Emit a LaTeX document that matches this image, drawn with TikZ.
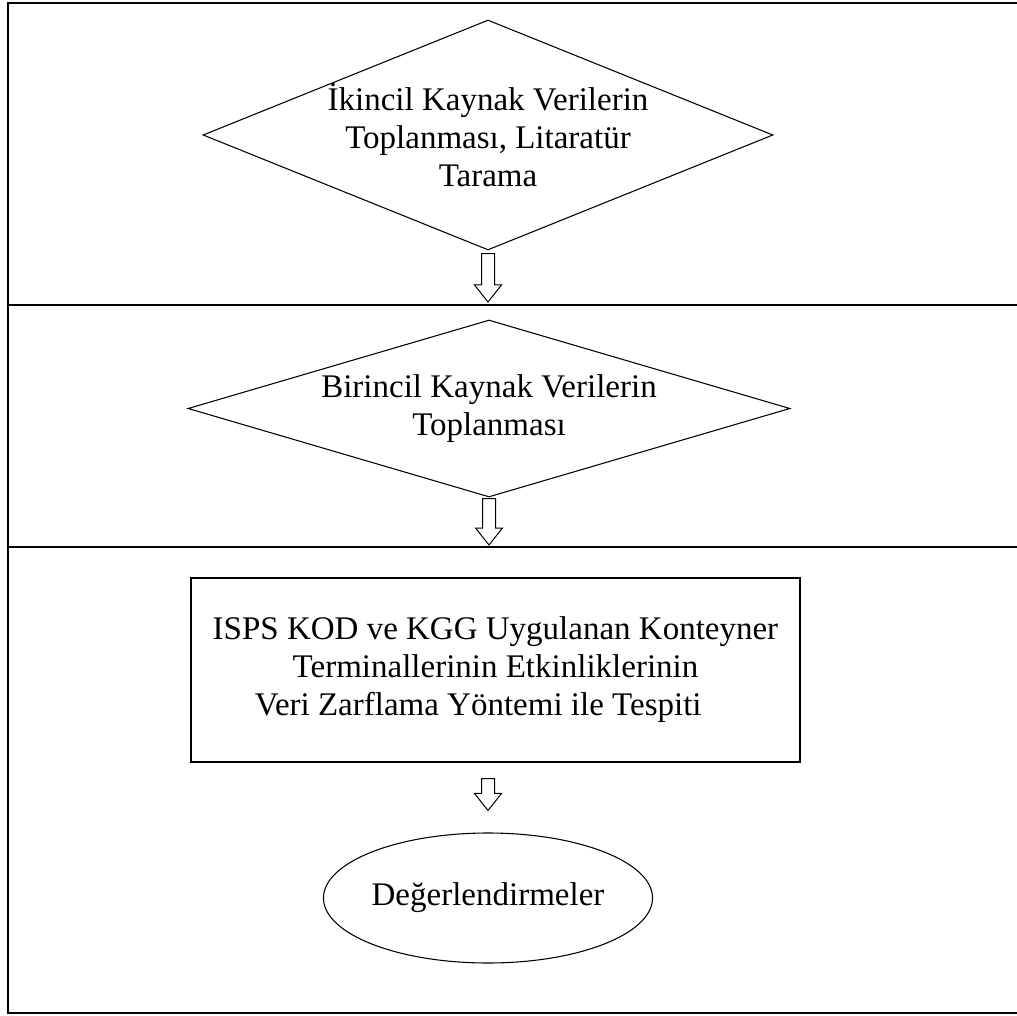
\documentclass[tikz,border=0pt]{standalone}
\usepackage{fontspec}
\setmainfont{Liberation Serif}
\usetikzlibrary{shapes.geometric, positioning, calc}
\tikzset{
x=0.75pt, y=-0.75pt, % one unit is one pixel of the page, y runs downwards
every node/.style={font=\fontsize{24.75}{28.5}\selectfont, align=center},
frame/.style={line width=1pt}, % outer frame and the lines between the stages
stage/.style={draw, line width=0.8pt, inner sep=0pt}, % sets the properties for each shape
decision/.style={stage, diamond},
process/.style={stage, rectangle},
result/.style={stage, ellipse},
hollow/.style={draw, line width=0.75pt, line join=miter}, % the hollow arrows between the stages
}
% hollow arrow from the middle of #1 down to #2
\newcommand\hollowarrow[2]{%
  \draw[hollow] let \p1=(#1), \p2=(#2) in
    (\x1-4.875pt,\y1) -- (\x1+4.875pt,\y1) -- (\x1+4.875pt,\y2+12.75pt) -- (\x1+10.125pt,\y2+12.75pt)
    -- (\x1,\y2) -- (\x1-10.125pt,\y2+12.75pt) -- (\x1-4.875pt,\y2+12.75pt) -- cycle;}

\begin{document}
\begin{tikzpicture}
        \useasboundingbox (0,0) rectangle (1017,1016);

        % Frame of the stages
        \draw[frame] (1017,3) -- (8,3) -- (8,1013) -- (1017,1013);
        \draw[frame] (8,305) -- (1017,305);
        \draw[frame] (8,547) -- (1017,547);

        % Secondary data
        \node[decision, minimum width=427.5pt, minimum height=172.5pt] (Secondary) at (488,135) {};
        \node at (Secondary.center) (SecondaryText) {İkincil Kaynak Verilerin\\Toplanması, Litaratür\\Tarama};

        % Primary data
        \node[decision, minimum width=451.5pt, minimum height=132.75pt] (Primary) at (489,408.5) {};
        \node at (Primary.center) (PrimaryText) {Birincil Kaynak Verilerin\\Toplanması};

        % Efficiency of the terminals
        \node[process, minimum width=456.75pt, minimum height=138pt] (Efficiency) at (495.5,670)
            {ISPS KOD ve KGG Uygulanan Konteyner\\Terminallerinin Etkinliklerinin\\Veri Zarflama Yöntemi ile Tespiti\hspace*{26pt}};

        % Evaluation
        \node[result, minimum width=232.5pt, minimum height=97.5pt] (Evaluation) at (488,898) {Değerlendirmeler};

        % Arrows between the stages
        \coordinate[below=2.25pt of Secondary.south] (SecondaryOut);
        \coordinate (SecondaryIn) at (SecondaryOut |- 0,302);
        \hollowarrow{SecondaryOut}{SecondaryIn}
        \coordinate[below=0.75pt of Primary.south] (PrimaryOut);
        \coordinate (PrimaryIn) at (PrimaryOut |- 0,545);
        \hollowarrow{PrimaryOut}{PrimaryIn}
        \coordinate (EfficiencyOut) at ($(Efficiency.south -| Evaluation.north)+(0,16)$);
        \coordinate[above=16.5pt of Evaluation.north] (EvaluationIn);
        \hollowarrow{EfficiencyOut}{EvaluationIn}
    \end{tikzpicture}
\end{document}
